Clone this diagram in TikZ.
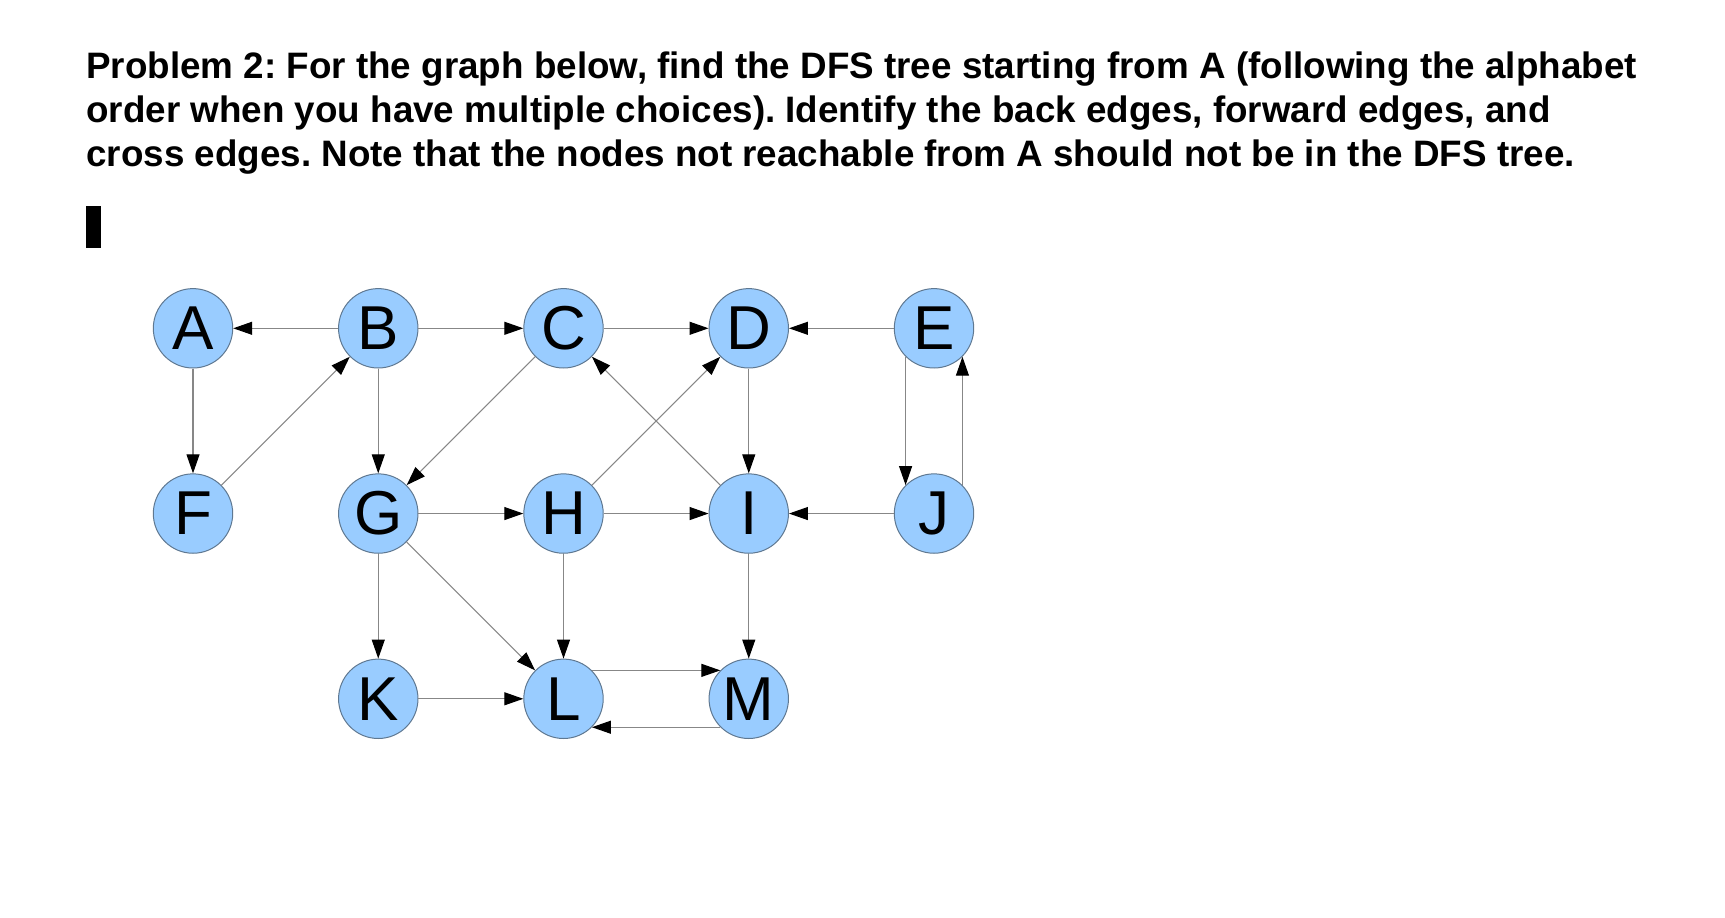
\documentclass[tikz,border=0pt]{standalone}
\usepackage{fontspec}
\setmainfont{Liberation Sans}
\usetikzlibrary{arrows.meta}
\definecolor{nodeblue}{RGB}{153,204,255}
\definecolor{nodeline}{RGB}{95,120,145}
\definecolor{edgegray}{RGB}{135,135,135}
\frenchspacing
\begin{document}
\begin{tikzpicture}[x=92.625pt,y=92.625pt,
		vertex/.style={circle, draw=nodeline, fill=nodeblue, line width=0.5pt,
			minimum size=39.7pt, inner sep=0pt, font=\fontsize{31}{31}\selectfont},
		edge/.style={draw=edgegray, line width=0.55pt,
			-{Triangle[length=9.5pt,width=6.5pt,color=black]}},
		task/.style={anchor=base west, inner sep=0pt,
			font=\bfseries\fontsize{18.4}{22.5}\selectfont}]
				\useasboundingbox (-1.0419,1.7722) rectangle (8.2699,-3.1779);
				
				% problem text
				\node[task] (line1) at (-0.578,1.350){Problem 2: For the graph below, find the DFS tree starting from A (following the alphabet};
				\node[task] (line2) at (-0.578,1.112){order when you have multiple choices). Identify the back edges, forward edges, and};
				\node[task] (line3) at (-0.578,0.873){cross edges. Note that the nodes not reachable from A should not be in the DFS tree.};
				
				% text cursor
				\fill[black] (-0.5776,0.660) rectangle (-0.4966,0.4335);
				
				% vertices
				\foreach \name/\x/\y in {A/0/0, B/1/0, C/2/0, D/3/0, E/4/0,
					F/0/-1, G/1/-1, H/2/-1, I/3/-1, J/4/-1,
					K/1/-2, L/2/-2, M/3/-2}
					\node[vertex] (\name) at (\x,\y){\name};
				
				% edges
				\foreach \a/\b in {B/A, B/C, C/D, E/D, A/F, B/G, D/I,
					F/B, C/G, H/D, I/C, G/H, H/I, J/I,
					G/K, H/L, I/M, G/L, K/L}
					\draw[edge] (\a) -- (\b);
				
				% pairs of opposite edges
				\draw[edge] (E.225) -- (J.135);
				\draw[edge] (J.45) -- (E.315);
				\draw[edge] (L.45) -- (M.135);
				\draw[edge] (M.225) -- (L.315);
\end{tikzpicture}
\end{document}
